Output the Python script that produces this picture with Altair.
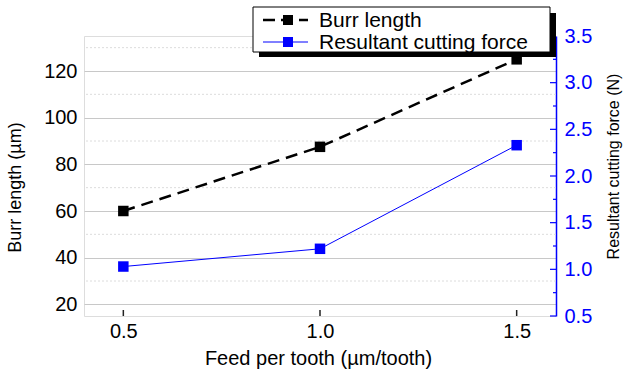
import altair as alt
import pandas as pd

# ---- data ----
feed = [0.5, 1.0, 1.5]
burr = [60, 87.5, 125]
force = [1.03, 1.22, 2.33]
series = ["Burr length", "Resultant cutting force"]
left_ticks = [20, 40, 60, 80, 100, 120]
left_minor = [30, 50, 70, 90, 110, 130]
right_ticks = [0.5, 1.0, 1.5, 2.0, 2.5, 3.0, 3.5]
right_minor = [0.75, 1.25, 1.75, 2.25, 2.75, 3.25]
x_ticks = [0.5, 1.0, 1.5]

W, H = 472, 280
FONT = "Liberation Sans"
BLUE = "#0000ff"

df = pd.DataFrame({"feed": feed, "burr": burr, "force": force})

x_axis = alt.Axis(values=x_ticks, format=".1f", title="Feed per tooth (µm/tooth)",
                  ticks=False, domain=False, grid=False, labelFontSize=20,
                  labelPadding=5, labelColor="black", titleFontSize=20,
                  titleFontWeight="normal", titleColor="black",
                  titleY=42, titleX=234, titleBaseline="middle", titleAlign="center")
x_scale = alt.Scale(domain=[0.4, 1.6], nice=False, zero=False)

def X(field):
    return alt.X(field, scale=x_scale, axis=x_axis)

left_axis = alt.Axis(values=left_ticks, title="Burr length (µm)", ticks=False,
                     domain=False, grid=True, gridColor="#c8c8c8", gridWidth=1,
                     labelFontSize=20, labelPadding=7, labelColor="black",
                     titleFontSize=18, titleFontWeight="normal", titleColor="black",
                     titleAngle=270, titleX=-69, titleY=151,
                     titleAlign="center", titleBaseline="middle")
left_scale = alt.Scale(domain=[15, 135], nice=False, zero=False)

right_axis = alt.Axis(values=right_ticks, format=".1f", orient="right",
                      title="Resultant cutting force (N)", ticks=False, domain=True,
                      domainColor=BLUE, domainWidth=1.5, grid=False,
                      labelFontSize=20, labelPadding=8, labelColor=BLUE,
                      titleFontSize=16, titleFontWeight="normal", titleColor="black",
                      titleAngle=270, titleX=57, titleY=130,
                      titleAlign="center", titleBaseline="middle")
right_scale = alt.Scale(domain=[0.5, 3.5], nice=False, zero=False)

# ---- left (burr) group ----
minor_df = pd.DataFrame({"v": left_minor})
minor_grid = alt.Chart(minor_df).mark_rule(color="#dcdcdc", strokeDash=[2, 2], strokeWidth=1).encode(
    y=alt.Y("v:Q", scale=left_scale, axis=left_axis))

xt_df = pd.DataFrame({"t": x_ticks})
x_tick_marks = alt.Chart(xt_df).mark_rule(color="#222", strokeWidth=1.5).encode(
    x=X("t:Q"), y=alt.value(H - 6), y2=alt.value(H))

burr_line = alt.Chart(df).mark_line(color="black", strokeWidth=2.5, strokeDash=[12, 7]).encode(
    x=X("feed:Q"), y=alt.Y("burr:Q", scale=left_scale, axis=left_axis))
burr_pts = alt.Chart(df).mark_square(color="black", size=110, opacity=1).encode(
    x=X("feed:Q"), y=alt.Y("burr:Q", scale=left_scale, axis=left_axis))

left_group = alt.layer(minor_grid, x_tick_marks, burr_line, burr_pts)

# ---- right (force) group ----
rt_df = pd.DataFrame({"v": right_ticks})
rm_df = pd.DataFrame({"v": right_minor})
r_major = alt.Chart(rt_df).mark_rule(color=BLUE, strokeWidth=1.2).encode(
    y=alt.Y("v:Q", scale=right_scale, axis=right_axis),
    x=alt.value(W - 6), x2=alt.value(W))
r_minor = alt.Chart(rm_df).mark_rule(color=BLUE, strokeWidth=1.2).encode(
    y=alt.Y("v:Q", scale=right_scale, axis=right_axis),
    x=alt.value(W - 3), x2=alt.value(W))
force_line = alt.Chart(df).mark_line(color=BLUE, strokeWidth=1).encode(
    x=X("feed:Q"), y=alt.Y("force:Q", scale=right_scale, axis=right_axis))
force_pts = alt.Chart(df).mark_square(color=BLUE, size=110, opacity=1).encode(
    x=X("feed:Q"), y=alt.Y("force:Q", scale=right_scale, axis=right_axis))

right_group = alt.layer(r_major, r_minor, force_line, force_pts)

# ---- legend (drawn by hand) ----
one = pd.DataFrame({"a": [0]})
shadow = alt.Chart(one).mark_rect(color="black").encode(
    x=alt.value(175), x2=alt.value(472), y=alt.value(-23), y2=alt.value(21))
box = alt.Chart(one).mark_rect(fill="white", stroke="black", strokeWidth=1).encode(
    x=alt.value(169), x2=alt.value(466), y=alt.value(-29), y2=alt.value(16))

leg_layers = [shadow, box]
rows = [(-16, "black", [12, 6], 2.5), (6, BLUE, None, 1)]
for name, (yy, col, dash, sw) in zip(series, rows):
    d = pd.DataFrame({"name": [name]})
    rule_kw = dict(color=col, strokeWidth=sw)
    if dash:
        rule_kw["strokeDash"] = dash
    leg_layers.append(alt.Chart(d).mark_rule(**rule_kw).encode(
        x=alt.value(179), x2=alt.value(224), y=alt.value(yy)))
    leg_layers.append(alt.Chart(d).mark_square(color=col, size=100, opacity=1).encode(
        x=alt.value(204), y=alt.value(yy)))
    leg_layers.append(alt.Chart(d).mark_text(align="left", baseline="middle", fontSize=21,
                                             font=FONT, color="black").encode(
        x=alt.value(235), y=alt.value(yy + 1), text="name:N"))

legend = alt.layer(*leg_layers)

chart = alt.layer(left_group, right_group, legend).resolve_scale(
    y="independent"
).properties(
    width=W, height=H, autosize=alt.AutoSizeParams(type="none"),
    padding={"left": 84, "top": 36, "right": 67, "bottom": 57}
).configure_view(
    stroke="#222", strokeWidth=1.5
).configure_axis(
    labelFont=FONT, titleFont=FONT
).configure(background="white")

chart.save("out.html", embed_options={"renderer": "svg", "actions": False})
